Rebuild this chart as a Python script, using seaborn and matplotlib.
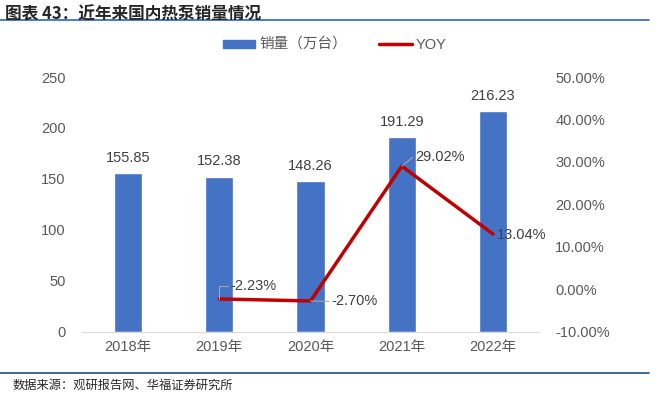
import matplotlib
matplotlib.use('Agg')
import matplotlib.pyplot as plt
import matplotlib.lines as mlines
import matplotlib.patches as mpatches
import pandas as pd
import seaborn as sns

years = ['2018年', '2019年', '2020年', '2021年', '2022年']
sales = [155.85, 152.38, 148.26, 191.29, 216.23]
yoy_years = ['2019年', '2020年', '2021年', '2022年']
yoy = [-2.23, -2.70, 29.02, 13.04]
left_ticks = [0, 50, 100, 150, 200, 250]
right_ticks = [-10, 0, 10, 20, 30, 40, 50]

sns.set_style('white')
plt.rcParams['font.family'] = ['Liberation Sans', 'Noto Sans CJK SC', 'DejaVu Sans']

bar_color = '#4472C4'
line_color = '#C00000'
grey = '#595959'

df = pd.DataFrame({'year': years, 'sales': sales})

fig = plt.figure(figsize=(6.7, 3.99), dpi=100)
ax = fig.add_axes([0.123, 0.168, 0.681, 0.639])

sns.barplot(data=df, x='year', y='sales', color=bar_color, width=0.31,
            saturation=1, ax=ax)
ax.set_ylim(0, 250)
ax.set_yticks(left_ticks)
ax.set_xlim(-0.5, 4.5)
ax.set_xlabel('')
ax.set_ylabel('')
for s in ['top', 'right', 'left']:
    ax.spines[s].set_visible(False)
ax.spines['bottom'].set_color('#D9D9D9')
ax.tick_params(axis='both', length=0, colors=grey, labelsize=10.5)
ax.tick_params(axis='x', pad=6)
ax.tick_params(axis='y', pad=12)

for i, v in enumerate(sales):
    ax.text(i, v + 8, f'{v:.2f}', ha='center', va='bottom', color='#404040', fontsize=10.5)

ax2 = ax.twinx()
x_pos = [years.index(y) for y in yoy_years]
sns.lineplot(x=x_pos, y=yoy, color=line_color, linewidth=2.5, ax=ax2)
ax2.set_ylim(-10, 50)
ax2.set_yticks(right_ticks)
ax2.set_yticklabels([f'{t:.2f}%' for t in right_ticks])
ax2.set_xlim(-0.5, 4.5)
for s in ['top', 'right', 'left', 'bottom']:
    ax2.spines[s].set_visible(False)
ax2.tick_params(axis='y', length=0, colors=grey, labelsize=10.5, pad=12)

# YOY data labels with leader lines
lab = dict(ha='left', va='center', color='#404040', fontsize=10.5)
lead = dict(color='#A6A6A6', lw=0.8)
for xi, v in zip(x_pos, yoy):
    if xi == 1:
        ax2.plot([xi, xi, xi + 0.1], [v, v + 3.0, v + 3.0], **lead)
        ax2.text(xi + 0.12, v + 3.0, f'{v:.2f}%', **lab)
    elif xi == 2:
        ax2.plot([xi, xi + 0.2], [v, v - 0.1], **lead)
        ax2.text(xi + 0.23, v - 0.1, f'{v:.2f}%', **lab)
    elif xi == 3:
        ax2.plot([xi, xi + 0.12], [v, v + 2.1], **lead)
        ax2.text(xi + 0.15, v + 2.1, f'{v:.2f}%', **lab)
    else:
        ax2.text(xi + 0.04, v - 0.3, f'{v:.2f}%', **lab)

# legend
h1 = mpatches.Patch(color=bar_color)
h2 = mlines.Line2D([], [], color=line_color, lw=2.5)
fig.legend([h1, h2], ['销量（万台）', 'YOY'], loc='center', bbox_to_anchor=(0.5, 0.887),
           ncol=2, frameon=False, fontsize=10.5, labelcolor=grey,
           handlelength=2.2, handleheight=0.55, columnspacing=2.2, handletextpad=0.3)

# title and source with rules
fig.text(0.008, 0.987, '图表 43：近年来国内热泵销量情况', ha='left', va='top',
         fontsize=12, fontweight='bold', family=['Noto Sans CJK SC'])
fig.add_artist(mlines.Line2D([0.0, 0.969], [0.949, 0.949], color='#2E64B8', lw=1.2))
fig.add_artist(mlines.Line2D([0.0, 0.969], [0.065, 0.065], color='#1F4E8C', lw=1.2))
fig.text(0.018, 0.035, '数据来源：观研报告网、华福证券研究所', ha='left', va='center',
         fontsize=8.8, family=['Noto Sans CJK SC'])

fig.savefig('out.png', dpi=100)
